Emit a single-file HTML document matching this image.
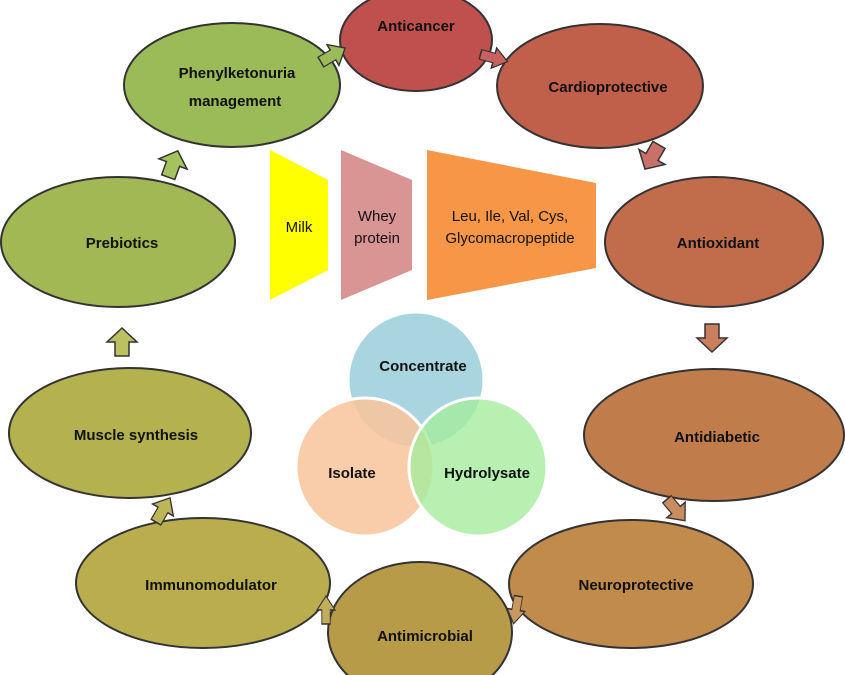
<!DOCTYPE html>
<html><head><meta charset="utf-8"><style>
html,body{margin:0;padding:0;background:#fff}
svg{display:block}
text{font-family:"Liberation Sans",sans-serif}
.b{font-weight:bold;font-size:15px;fill:#111}
.n{font-size:15px;fill:#111}
</style></head><body>
<svg width="845" height="675" viewBox="0 0 845 675" xmlns="http://www.w3.org/2000/svg">
<defs>
<radialGradient id="hl" cx="0.35" cy="0.3" r="0.8">
<stop offset="0" stop-color="#fff" stop-opacity="0.12"/>
<stop offset="1" stop-color="#000" stop-opacity="0.05"/>
</radialGradient>
<path id="ar" d="M-7,-14 L7,-14 L7,0 L15,0 L0,14 L-15,0 L-7,0 Z"/>
</defs>
<g stroke="#333" stroke-width="2">
<ellipse cx="416" cy="40" rx="76" ry="51" fill="#c0504d"/>
<ellipse cx="232" cy="85" rx="108" ry="62" fill="#9bbb59"/>
<ellipse cx="600" cy="86" rx="103" ry="62" fill="#c0604b"/>
<ellipse cx="118" cy="242" rx="117" ry="65" fill="#a2b854"/>
<ellipse cx="714" cy="242" rx="109" ry="65" fill="#c16d4c"/>
<ellipse cx="130" cy="433" rx="121" ry="65" fill="#b3b24e"/>
<ellipse cx="714" cy="435" rx="130" ry="66" fill="#c07c4b"/>
<ellipse cx="203" cy="583" rx="127" ry="65" fill="#b9ad4d"/>
<ellipse cx="631" cy="584" rx="122" ry="64" fill="#c08b4b"/>
<ellipse cx="420" cy="632" rx="92" ry="70" fill="#b89b48"/>
</g>
<g stroke="#333" stroke-width="1.5">
<use href="#ar" transform="translate(333,55) rotate(-120) scale(0.8,1)" fill="#9bbb59"/>
<use href="#ar" transform="translate(494,58) rotate(-75) scale(0.7,1)" fill="#c9625f"/>
<use href="#ar" transform="translate(652,157) rotate(30)" fill="#c9706a"/>
<use href="#ar" transform="translate(712,338) rotate(0)" fill="#c97f5e"/>
<use href="#ar" transform="translate(676,510) rotate(-40) scale(0.8,1)" fill="#c98c5e"/>
<use href="#ar" transform="translate(516,610) rotate(10) scale(0.6,1)" fill="#c9985e"/>
<use href="#ar" transform="translate(326,610) rotate(180) scale(0.6,1)" fill="#c2ad5a"/>
<use href="#ar" transform="translate(163,510) rotate(210) scale(0.8,1)" fill="#bdb658"/>
<use href="#ar" transform="translate(122,342) rotate(180)" fill="#bcc060"/>
<use href="#ar" transform="translate(173,164) rotate(200)" fill="#a6c25e"/>
</g>
<polygon points="270,150 328,180 328,270 270,300" fill="#ffff00"/>
<polygon points="341,150 412,180 412,270 341,300" fill="#d99594"/>
<polygon points="427,150 596,183 596,268 427,300" fill="#f79646"/>
<g stroke="#fff" stroke-width="3">
<circle cx="416" cy="380" r="68" fill="#a8d5e0"/>
<circle cx="365" cy="467" r="69" fill="#f9c49b" fill-opacity="0.85"/>
<circle cx="478" cy="467" r="69" fill="#a5ec9d" fill-opacity="0.8"/>
</g>
<g text-anchor="middle">
<text class="b" x="416" y="31">Anticancer</text>
<text class="b" x="237" y="78">Phenylketonuria</text>
<text class="b" x="235" y="106">management</text>
<text class="b" x="608" y="92">Cardioprotective</text>
<text class="b" x="122" y="248">Prebiotics</text>
<text class="b" x="718" y="248">Antioxidant</text>
<text class="b" x="136" y="440">Muscle synthesis</text>
<text class="b" x="717" y="442">Antidiabetic</text>
<text class="b" x="211" y="590">Immunomodulator</text>
<text class="b" x="636" y="590">Neuroprotective</text>
<text class="b" x="425" y="641">Antimicrobial</text>
<text class="b" x="423" y="371">Concentrate</text>
<text class="b" x="352" y="478">Isolate</text>
<text class="b" x="487" y="478">Hydrolysate</text>
<text class="n" x="299" y="232">Milk</text>
<text class="n" x="377" y="221">Whey</text>
<text class="n" x="377" y="243">protein</text>
<text class="n" x="510" y="221">Leu, Ile, Val, Cys,</text>
<text class="n" x="510" y="243">Glycomacropeptide</text>
</g>
</svg>
</body></html>
